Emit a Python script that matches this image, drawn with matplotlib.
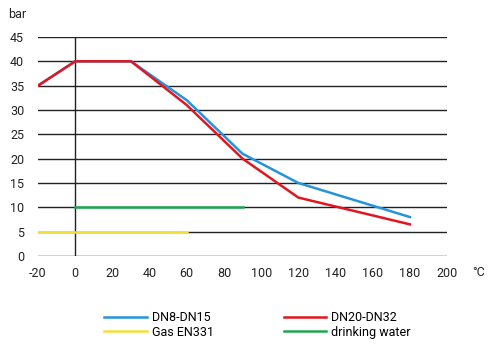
import matplotlib.pyplot as plt

# temperature (°C) vs pressure (bar)
t_dn8 = [-20, 0, 30, 60, 90, 120, 180]
p_dn8 = [35, 40, 40, 32, 21, 15, 8]
t_dn20 = [-20, 0, 30, 60, 90, 120, 180]
p_dn20 = [35, 40, 40, 31, 20, 12, 6.5]
t_gas = [-20, 60]
p_gas = [5, 5]
t_water = [0, 90]
p_water = [10, 10]

xticks = [-20, 0, 20, 40, 60, 80, 100, 120, 140, 160, 180, 200]
yticks = [0, 5, 10, 15, 20, 25, 30, 35, 40, 45]

plt.rcParams['font.family'] = ['Roboto', 'DejaVu Sans']
plt.rcParams['axes.unicode_minus'] = False
fig = plt.figure(figsize=(4.94, 3.51), dpi=100)
ax = fig.add_axes([0.077, 0.2707, 0.828, 0.624])

for y in yticks:
    ax.axhline(y, color='#222222', lw=1.0, zorder=1)
ax.axvline(0, color='#222222', lw=1.0, zorder=1)

ax.plot(t_dn8, p_dn8, color='#2394dd', lw=1.8, label='DN8-DN15', zorder=3)
ax.plot(t_gas, p_gas, color='#f4e03a', lw=1.8, label='Gas EN331', zorder=3)
ax.plot(t_dn20, p_dn20, color='#e3161f', lw=1.8, label='DN20-DN32', zorder=4)
ax.plot(t_water, p_water, color='#1fa64e', lw=1.8, label='drinking water', zorder=3)

ax.set_xlim(-20, 200)
ax.set_ylim(0, 45)
ax.set_xticks(xticks)
ax.set_yticks(yticks)
ax.tick_params(length=0, labelsize=9, colors='#222222')
ax.tick_params(axis='y', pad=10)
ax.tick_params(axis='x', pad=8)
for s in ax.spines.values():
    s.set_visible(False)

fig.text(8 / 494, 1 - 14 / 351, 'bar', fontsize=9, color='#222222', va='center')
fig.text(472 / 494, 1 - 272 / 351, '°C', fontsize=9, color='#222222', va='center')

fig.legend(loc='center', bbox_to_anchor=(0.521, 1 - 325 / 351), ncol=2, frameon=False,
           fontsize=9, handlelength=3.4, columnspacing=5.6, labelspacing=0.1,
           handletextpad=0.4)

fig.savefig('out.png', dpi=100)
